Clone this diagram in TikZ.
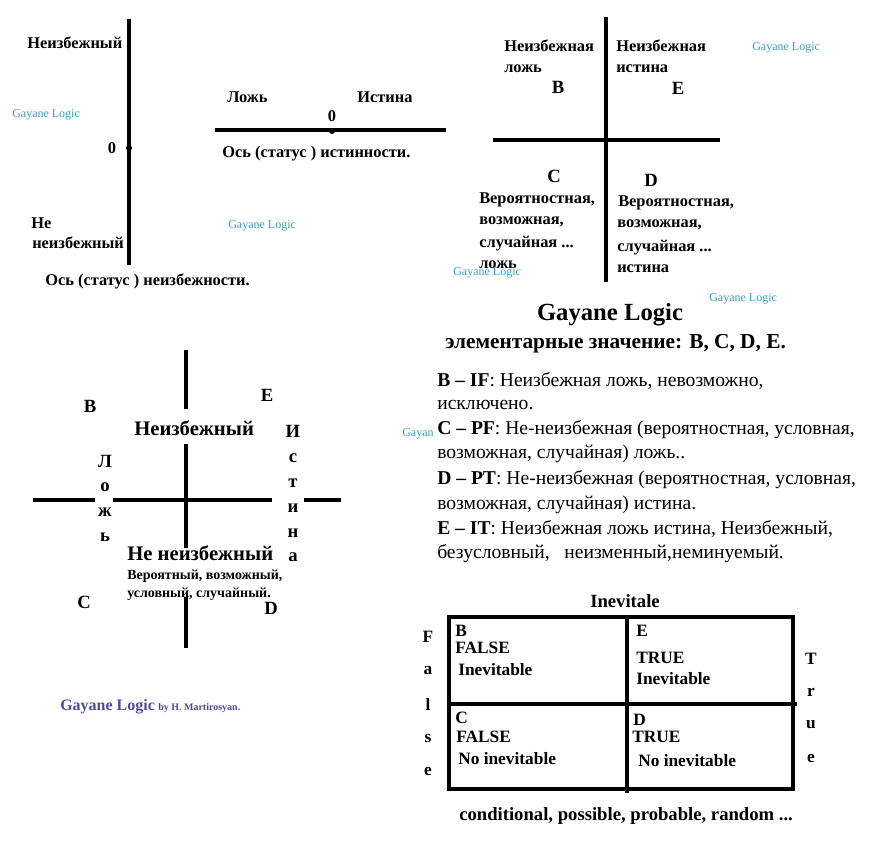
\documentclass[tikz,border=0pt]{standalone}
\usepackage{fontspec}
\setmainfont{Liberation Serif}
\usetikzlibrary{positioning}
\definecolor{wmcyan}{HTML}{3A9BC1}
\definecolor{signblue}{HTML}{4B4B9B}
\tikzset{
  lbl/.style={anchor=west, inner sep=0pt, font=\bfseries\fontsize{12.3}{14}\selectfont},
  biglbl/.style={anchor=west, inner sep=0pt, font=\bfseries\fontsize{15.5}{18}\selectfont},
  letter/.style={inner sep=0pt, font=\bfseries\fontsize{14}{16}\selectfont},
  wmark/.style={anchor=west, inner sep=0pt, font=\fontsize{9}{11}\selectfont, text=wmcyan},
  deftext/.style={anchor=west, inner sep=0pt, font=\fontsize{14.7}{17}\selectfont},
  axis/.style={line width=2.7pt},
  dot/.style={circle, fill=black, inner sep=0pt, minimum size=4.5pt}
}
\begin{document}
\begin{tikzpicture}[x=0.75pt, y=-0.75pt,
    cell/.style={anchor=west, inner sep=0pt, font=\bfseries\fontsize{13}{15}\selectfont},
    tbl/.style={line width=2.7pt}]
\useasboundingbox (0,0) rectangle (885,845);

% Ось неизбежности
\draw[axis] (129,19) -- (129,265);
\node[dot] (zeroV) at (129,148) {};
\node[lbl, left=7pt of zeroV] (zeroVl) {0};
\node[lbl] (inev) at (27,43) {Неизбежный};
\node[lbl] (notinev1) at (31,223) {Не};
\node[lbl] (notinev2) at (32,243) {неизбежный};
\node[lbl] (axisV) at (45,281) {Ось (статус ) неизбежности.};
\node[wmark] (wm1) at (12,115) {Gayane Logic};

% Ось истинности
\draw[axis] (215,130) -- (446,130);
\node[dot] (zeroH) at (332,131) {};
\node[lbl, anchor=south, above=4pt of zeroH] (zeroHl) {0};
\node[lbl] (falseH) at (227,97) {Ложь};
\node[lbl] (trueH) at (357,97) {Истина};
\node[lbl] (axisH) at (222,154) {Ось (статус ) истинности.};
\node[wmark] (wm2) at (228,226) {Gayane Logic};

% Квадранты
\draw[axis] (606,17) -- (606,282);
\draw[axis] (493,140) -- (720,140);
\node[lbl] (qB1) at (504,46) {Неизбежная};
\node[lbl] (qB2) at (504,69) {ложь};
\node[letter] (qB) at (558,87) {B};
\node[lbl] (qE1) at (616,46) {Неизбежная};
\node[lbl] (qE2) at (616,69) {истина};
\node[letter] (qE) at (678,88) {E};
\node[letter] (qC) at (554,176) {C};
\node[lbl] (qC1) at (479,200) {Вероятностная,};
\node[lbl] (qC2) at (479,222) {возможная,};
\node[lbl] (qC3) at (479,244) {случайная ...};
\node[lbl] (qC4) at (479,265) {ложь};
\node[letter] (qD) at (651,180) {D};
\node[lbl] (qD1) at (618,203) {Вероятностная,};
\node[lbl] (qD2) at (617,225) {возможная,};
\node[lbl] (qD3) at (617,248) {случайная ...};
\node[lbl] (qD4) at (617,269) {истина};
\node[wmark] (wm3) at (752,48) {Gayane Logic};
\node[wmark] (wm4) at (453,273) {Gayane Logic};
\node[wmark] (wm5) at (709,299) {Gayane Logic};

% Элементарные значения
\node[inner sep=0pt, font=\bfseries\fontsize{18.5}{21}\selectfont] (title) at (610,315) {Gayane Logic};
\node[anchor=west, inner sep=0pt, font=\bfseries\fontsize{16}{18}\selectfont] (elem) at (445,344) {элементарные значение: B, C, D, E.};
\node[wmark] (wm6) at (402,434) {Gayan};
\node[deftext] (def1) at (437,381) {\textbf{B – IF}: Неизбежная ложь, невозможно,};
\node[deftext] (def2) at (437,405) {исключено.};
\node[deftext] (def3) at (437,430) {\textbf{C – PF}: Не-неизбежная (вероятностная, условная,};
\node[deftext] (def4) at (437,454) {возможная, случайная) ложь..};
\node[deftext] (def5) at (437,480) {\textbf{D – PT}: Не-неизбежная (вероятностная, условная,};
\node[deftext] (def6) at (437,505) {возможная, случайная) истина.};
\node[deftext] (def7) at (437,529) {\textbf{E – IT}: Неизбежная ложь истина, Неизбежный,};
\node[deftext] (def8) at (437,554) {безусловный, \ \ неизменный,неминуемый.};

% Крест
\draw[axis] (186,350) -- (186,409);
\draw[axis] (186,444) -- (186,548);
\draw[axis] (186,597) -- (186,648);
\draw[axis] (33,500) -- (95,500);
\draw[axis] (113,500) -- (272,500);
\draw[axis] (304,500) -- (341,500);
\node[letter] (xB) at (90,406) {B};
\node[letter] (xE) at (267,395) {E};
\node[letter] (xC) at (84,602) {C};
\node[letter] (xD) at (271,608) {D};
\node[biglbl] (xinev) at (134,428) {Неизбежный};
\node[biglbl] (xnotinev) at (127,553) {Не неизбежный};
\node[anchor=west, inner sep=0pt, font=\bfseries\fontsize{10.5}{12}\selectfont] (xprob1) at (127,576) {Вероятный, возможный,};
\node[anchor=west, inner sep=0pt, font=\bfseries\fontsize{10.5}{12}\selectfont] (xprob2) at (127,594) {условный, случайный.};
\foreach \ch/\yy [count=\i] in {Л/461, о/487, ж/512, ь/537}
  \node[letter] (lozh\i) at (105,\yy) {\ch};
\foreach \ch/\yy [count=\i] in {И/431, с/458, т/483, и/508, н/533, а/557}
  \node[letter] (ist\i) at (293,\yy) {\ch};
\node[anchor=west, inner sep=0pt, text=signblue, font=\bfseries] (sign) at (60,707)
  {{\fontsize{12}{14}\selectfont Gayane Logic} {\fontsize{7.5}{9}\selectfont by H. Martirosyan.}};

% Таблица
\draw[tbl] (449,617) rectangle (793,789);
\draw[tbl] (627,617) -- (627,793);
\draw[tbl] (447,704) -- (797,704);
\node[inner sep=0pt, font=\bfseries\fontsize{14}{16}\selectfont] (tinev) at (625,601) {Inevitale};
\node[cell] (tB) at (455,631) {B};
\node[cell] (tB1) at (455,648) {FALSE};
\node[cell] (tB2) at (458,670) {Inevitable};
\node[cell] (tE) at (636,631) {E};
\node[cell] (tE1) at (636,658) {TRUE};
\node[cell] (tE2) at (636,679) {Inevitable};
\node[cell] (tC) at (455,718) {C};
\node[cell] (tC1) at (456,737) {FALSE};
\node[cell] (tC2) at (458,759) {No inevitable};
\node[cell] (tD) at (633,720) {D};
\node[cell] (tD1) at (632,737) {TRUE};
\node[cell] (tD2) at (638,761) {No inevitable};
\foreach \ch/\yy [count=\i] in {F/637, a/671, l/704, s/738, e/771}
  \node[inner sep=0pt, font=\bfseries\fontsize{13}{15}\selectfont] (tF\i) at (428,\yy) {\ch};
\foreach \ch/\yy [count=\i] in {T/659, r/692, u/725, e/758}
  \node[inner sep=0pt, font=\bfseries\fontsize{13}{15}\selectfont] (tT\i) at (811,\yy) {\ch};
\node[anchor=west, inner sep=0pt, font=\bfseries\fontsize{14}{16}\selectfont] (tcond) at (459,816) {conditional, possible, probable, random ...};
\end{tikzpicture}
\end{document}
